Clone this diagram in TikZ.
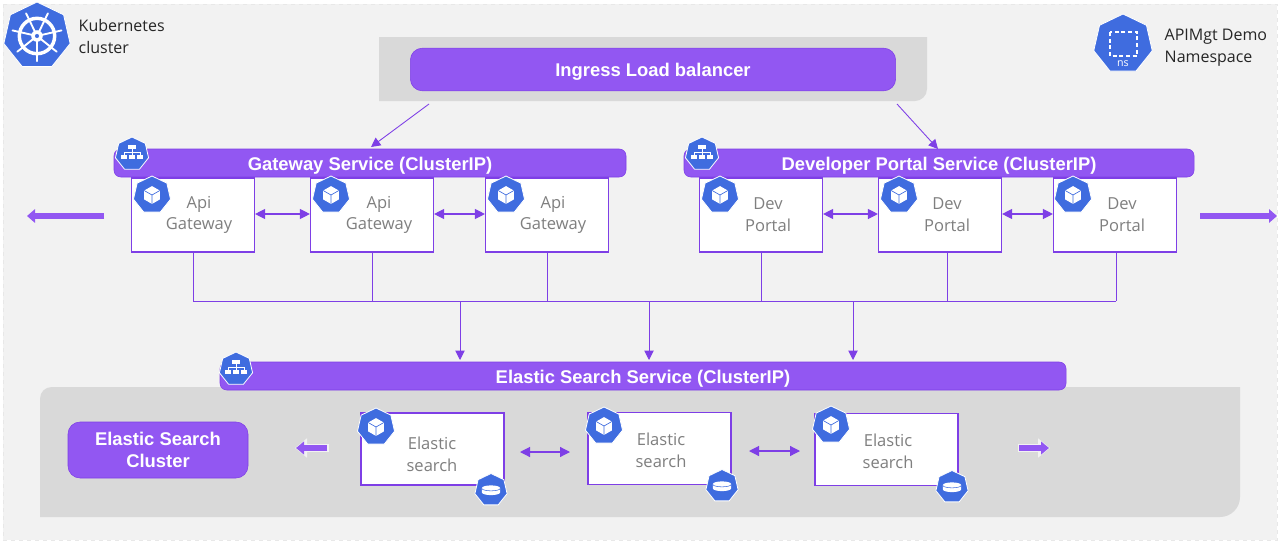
\documentclass[tikz,border=0pt]{standalone}
\usepackage{fontspec}
\setmainfont{Open Sans}
\newfontfamily\boldsans{Liberation Sans}
\usetikzlibrary{arrows.meta,shapes.geometric,calc}
\definecolor{pagebg}{HTML}{F2F2F2}
\definecolor{panel}{HTML}{D9D9D9}
\definecolor{violet}{HTML}{9257F2}
\definecolor{violetline}{HTML}{7E3FE6}
\definecolor{kblue}{HTML}{3F6CDF}
\definecolor{softtext}{HTML}{7F7F7F}
\tikzset{
  panelbox/.style={fill=panel,draw=none},
  band/.style={fill=violet,draw=violetline,line width=.4pt,rounded corners=5pt,inner sep=0pt,text=white,font=\boldsans\bfseries\fontsize{13.8}{15}\selectfont},
  lowtext/.style={text height=11pt,text depth=0pt},
  podbox/.style={draw=violetline,line width=1.1pt,fill=white,inner sep=0pt,minimum width=92pt,minimum height=55.5pt},
  esbox/.style={draw=violetline,line width=1.1pt,fill=white,inner sep=0pt,minimum width=107pt,minimum height=54pt},
  softlabel/.style={text=softtext,align=center,font=\fontsize{12.4}{16.3}\selectfont},
  keylabel/.style={text=black!85,align=left,anchor=west,font=\fontsize{12}{16.5}\selectfont},
  bus/.style={draw=violetline,line width=.65pt},
  flow/.style={draw=violetline,line width=.65pt,-{Triangle[length=7pt,width=7pt]}},
  twoway/.style={draw=violetline,line width=.9pt,{Triangle[length=7.5pt,width=7.5pt]}-{Triangle[length=7.5pt,width=7.5pt]}},
  bigarrow/.style={draw=violet,line width=4.8pt,-{Triangle[length=6pt,width=10pt]}},
  halo/.style={draw=pagebg,line width=6.5pt,-{Triangle[length=9pt,width=14pt]}},
  smallarrow/.style={draw=violet,line width=4.2pt,-{Triangle[length=6pt,width=9.5pt]}},
  hepta/.style={regular polygon,regular polygon sides=7,inner sep=0pt,fill=kblue,draw=white,line width=.6pt},
}
% #1 name, #2 x, #3 y, #4 radius in px
\newcommand{\heptanode}[4]{\node[hepta,minimum size=#4*1.5pt] (#1) at (#2,#3) {};}
\newcommand{\podicon}[4]{\heptanode{#1}{#2}{#3}{#4}
  \begin{scope}[shift={(#2,#3)},scale=#4/10]
    \fill[white] (0,-4.7)--(4.1,-2.35)--(4.1,2.35)--(0,4.7)--(-4.1,2.35)--(-4.1,-2.35)--cycle;
    \draw[kblue,line width=.5pt] (-4.1,-2.35)--(0,0)--(4.1,-2.35) (0,0)--(0,4.7);
  \end{scope}}
\newcommand{\svcicon}[4]{\heptanode{#1}{#2}{#3}{#4}
  \begin{scope}[shift={(#2,#3)},scale=#4/10]
    \fill[white] (-2.1,-5.2) rectangle (2.1,-2.9);
    \fill[white] (-6.4,0.4) rectangle (-3,3);
    \fill[white] (-1.7,0.4) rectangle (1.7,3);
    \fill[white] (3,0.4) rectangle (6.4,3);
    \draw[white,line width=.6pt] (0,-3)--(0,.5) (-4.7,.5)--(-4.7,-1.2)--(4.7,-1.2)--(4.7,.5);
  \end{scope}}
\newcommand{\dbicon}[4]{\heptanode{#1}{#2}{#3}{#4}
  \begin{scope}[shift={(#2,#3)},scale=#4/10]
    \fill[white] (-5.5,-1.2) -- (-5.5,1.5) arc[start angle=180,end angle=360,x radius=5.5,y radius=-1.6] -- (5.5,-1.2) arc[start angle=0,end angle=180,x radius=5.5,y radius=-1.6] -- cycle;
    \draw[kblue,line width=.4pt] (-5.5,-.9) arc[start angle=180,end angle=360,x radius=5.5,y radius=-1.4];
  \end{scope}}
\begin{document}
\begin{tikzpicture}[x=.75pt,y=-.75pt]
\useasboundingbox (0,0) rectangle (1280,543);
\fill[white] (0,0) rectangle (1280,543);
\path[fill=pagebg,draw=panel!60,dashed,line width=.6pt] (3,4) rectangle (1277,540);

% panels
\path[panelbox] (379,37) -- (927,37) -- (927,89) .. controls (927,96) and (921,101) .. (915,101) -- (379,101) -- cycle;
\path[panelbox] (52,387) -- (1240,387) -- (1240,497) .. controls (1240,508) and (1231,517) .. (1220,517) -- (40,517) -- (40,399) .. controls (40,392) and (45,387) .. (52,387) -- cycle;

% named bands
\node[band,rounded corners=9pt,minimum width=364pt,minimum height=32pt,text height=10pt,text depth=0pt] (ingress) at (653,69.5) {Ingress Load balancer};
\coordinate (ingL) at (429,104);
\coordinate (ingR) at (897,104);
\node[band,lowtext,minimum width=384pt,minimum height=21pt] (gwsvc) at (370,163) {Gateway Service (ClusterIP)};
\node[band,lowtext,minimum width=382.5pt,minimum height=21pt] (devsvc) at (939,163) {Developer Portal Service (ClusterIP)};
\node[band,text height=10.5pt,text depth=0pt,minimum width=634.5pt,minimum height=21pt] (essvc) at (643,376) {Elastic Search Service (ClusterIP)};
\node[band,rounded corners=9pt,minimum width=135pt,minimum height=42pt,align=center,font=\boldsans\bfseries\fontsize{13.8}{16.5}\selectfont] (escl) at (158,450) {Elastic Search\\Cluster};

% pod boxes
\foreach \nm/\cx in {gw1/193,gw2/372,gw3/547,dp1/761,dp2/940,dp3/1115}
  \node[podbox] (\nm) at (\cx,215) {};
\foreach \nm/\tx in {gw1/199,gw2/379,gw3/553}
  \node[softlabel] (\nm t) at (\tx,215) {Api\\Gateway};
\foreach \nm/\tx in {dp1/768,dp2/947,dp3/1122}
  \node[softlabel] (\nm t) at (\tx,215) {Dev\\Portal};

\node[esbox] (es1) at (432.5,449) {};
\node[esbox] (es2) at (659.5,448.5) {};
\node[esbox] (es3) at (886.5,449.5) {};
\node[softlabel] (es1t) at (432,454) {Elastic\\search};
\node[softlabel] (es2t) at (661,450) {Elastic\\search};
\node[softlabel] (es3t) at (888,451) {Elastic\\search};

% bus
\coordinate (busW) at (193,301);
\coordinate (busE) at (1116,301);
\draw[bus] (busW) -- (busE);
\foreach \nm/\cx in {gw1/193,gw2/372,gw3/547,dp1/761,dp2/947,dp3/1116}
  \draw[bus] (\nm.south -| \cx,0) -- (\cx,301);
\foreach \cx in {460,649,853}
  \draw[flow] (\cx,301) -- (\cx,360);

% ingress flows
\draw[flow] (ingL) -- (371,147);
\draw[flow] (ingR) -- (938,149);

% two-way
\draw[twoway] (gw1.east |- 0,214) -- (gw2.west |- 0,214);
\draw[twoway] (gw2.east |- 0,214) -- (gw3.west |- 0,214);
\draw[twoway] (dp1.east |- 0,214) -- (dp2.west |- 0,214);
\draw[twoway] (dp2.east |- 0,214) -- (dp3.west |- 0,214);
\coordinate (e1) at (520,452); \coordinate (e2) at (570,452);
\coordinate (e3) at (749,451); \coordinate (e4) at (800,451);
\draw[twoway] (e1) -- (e2);
\draw[twoway] (e3) -- (e4);

% outward arrows
\coordinate (outLs) at (104,216); \coordinate (outLe) at (27,216);
\coordinate (outRs) at (1200,216); \coordinate (outRe) at (1277,216);
\draw[bigarrow] (outLs) -- (outLe);
\draw[bigarrow] (outRs) -- (outRe);
\coordinate (sLs) at (327,448); \coordinate (sLe) at (296,448);
\coordinate (sRs) at (1019,448); \coordinate (sRe) at (1049,448);
\draw[halo] ($(sLs)+(1.5,0)$) -- ($(sLe)+(-1,0)$);
\draw[halo] ($(sRs)+(-1.5,0)$) -- ($(sRe)+(1,0)$);
\draw[smallarrow] (sLs) -- (sLe);
\draw[smallarrow] (sRs) -- (sRe);

% icons
\svcicon{si1}{132}{154}{17}
\svcicon{si2}{702}{154}{17}
\svcicon{si3}{236}{369}{17}
\podicon{p1}{152}{195}{19}
\podicon{p2}{331}{195}{19}
\podicon{p3}{506}{195}{19}
\podicon{p4}{720}{195}{19}
\podicon{p5}{899}{195}{19}
\podicon{p6}{1073}{195}{19}
\podicon{p7}{376}{427}{19}
\podicon{p8}{604}{426}{19}
\podicon{p9}{831}{425}{19}
\dbicon{d1}{491}{490}{16.5}
\dbicon{d2}{722}{486}{16.5}
\dbicon{d3}{952}{487}{16.5}

% kubernetes wheel
\heptanode{kube}{37}{36}{34}
\begin{scope}[shift={(37,36)},scale=3.4]
  \draw[white,line width=2.6pt] (0,0) circle (5.2);
  \foreach \a in {90,141.43,192.86,244.29,295.71,347.14,398.57}
    \draw[white,line width=1.4pt,line cap=round] (0,0) -- ({\a}:7.4);
  \fill[white] (0,0) circle (1.7);
  \fill[kblue] (0,0) circle (.6);
\end{scope}
\node[keylabel] (kubet) at (74,36) {Kubernetes\\cluster};

% namespace
\heptanode{ns}{1123}{44}{30}
\draw[white,line width=1pt,densely dashed] (1110,32) rectangle (1137,56);
\node[text=white,font=\fontsize{8}{9}\selectfont] (nst) at (1123,64) {ns};
\node[keylabel] (nslabel) at (1160,48) {APIMgt Demo\\Namespace};
\end{tikzpicture}
\end{document}
